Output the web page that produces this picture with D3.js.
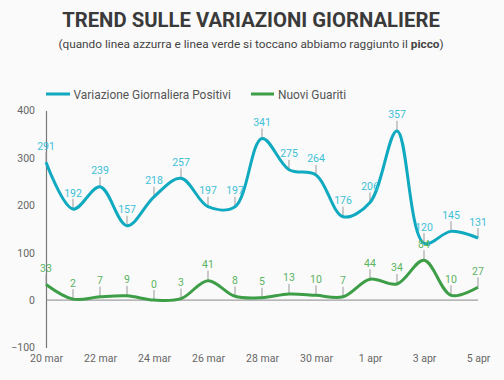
<!DOCTYPE html>
<html><head><meta charset="utf-8">
<script src="https://cdn.jsdelivr.net/npm/d3@7"></script>
<style>
html,body{margin:0;padding:0;background:#fafafa;}
svg{display:block;font-family:Roboto,"Noto Sans",sans-serif;}
</style></head>
<body>
<svg id="c" width="504" height="380"></svg>
<script>
const dates = ["20 mar","21 mar","22 mar","23 mar","24 mar","25 mar","26 mar","27 mar","28 mar","29 mar","30 mar","31 mar","1 apr","2 apr","3 apr","4 apr","5 apr"];
const positivi = [291,192,239,157,218,257,197,197,341,275,264,176,206,357,120,145,131];
const guariti = [33,2,7,9,0,3,41,8,5,13,10,7,44,34,84,10,27];
const yTicks = [-100,0,100,200,300,400];
const xTickLabels = ["20 mar","22 mar","24 mar","26 mar","28 mar","30 mar","1 apr","3 apr","5 apr"];
const seriesNames = ["Variazione Giornaliera Positivi","Nuovi Guariti"];

const svg = d3.select("#c");
const W = 504, H = 380;
svg.append("rect").attr("width",W).attr("height",H).attr("fill","#fafafa");

// Title
svg.append("text").attr("x",251).attr("y",27).attr("text-anchor","middle")
  .attr("font-size",20.3).attr("font-weight",700).attr("fill","#3a3a3a")
  .text("TREND SULLE VARIAZIONI GIORNALIERE");
const sub = svg.append("text").attr("x",251).attr("y",48).attr("text-anchor","middle")
  .attr("font-size",11.8).attr("fill","#444");
sub.append("tspan").text("(quando linea azzurra e linea verde si toccano abbiamo raggiunto il ");
sub.append("tspan").attr("font-weight",700).text("picco");
sub.append("tspan").text(")");

const x = d3.scalePoint().domain(dates).range([46,478]);
const y = d3.scaleLinear().domain([-100,400]).range([347.5,110.5]);

const colors = ["#0fa9c0","#3d9e47"];
const labelColors = ["#3cc0d6","#5ab462"];

// Legend
const leg = [[46,70,73.5],[251,274,278]];
seriesNames.forEach((n,i)=>{
  svg.append("line").attr("x1",leg[i][0]).attr("x2",leg[i][1]).attr("y1",94).attr("y2",94)
    .attr("stroke",colors[i]).attr("stroke-width",3);
  svg.append("text").attr("x",leg[i][2]).attr("y",98.5).attr("font-size",11.9).attr("fill","#555").text(n);
});

// Y axis
const yAxis = d3.axisLeft(y).tickValues(yTicks).tickSize(0).tickPadding(11);
const ga = svg.append("g").attr("transform","translate(46,0)").call(yAxis);
ga.select(".domain").attr("stroke","#777").attr("stroke-width",1.2);
ga.selectAll("text").attr("font-size",10.5).attr("fill","#666").attr("font-family","Roboto,sans-serif");

// zero line
svg.append("line").attr("x1",46).attr("x2",478).attr("y1",y(0)).attr("y2",y(0))
  .attr("stroke","#888").attr("stroke-width",1);

// X axis labels
const xAxis = d3.axisBottom(x).tickValues(xTickLabels).tickSize(0).tickPadding(0);
const gx = svg.append("g").attr("transform","translate(0,355)").call(xAxis);
gx.select(".domain").remove();
gx.selectAll("text").attr("font-size",10.5).attr("fill","#666").attr("font-family","Roboto,sans-serif");

const line = d3.line().x((d,i)=>x(dates[i])).y(d=>y(d)).curve(d3.curveCatmullRom.alpha(0.5));

[positivi,guariti].forEach((vals,k)=>{
  svg.append("g").selectAll("line").data(vals).join("line")
    .attr("x1",(d,i)=>x(dates[i])).attr("x2",(d,i)=>x(dates[i]))
    .attr("y1",d=>y(d)).attr("y2",d=>y(d)-10)
    .attr("stroke","#999").attr("stroke-width",1);
});
[positivi,guariti].forEach((vals,k)=>{
  svg.append("path").datum(vals).attr("d",line).attr("fill","none")
    .attr("stroke",colors[k]).attr("stroke-width",3).attr("stroke-linejoin","round");
});
[positivi,guariti].forEach((vals,k)=>{
  svg.append("g").selectAll("text").data(vals).join("text")
    .attr("x",(d,i)=>x(dates[i])).attr("y",d=>y(d)-12.5)
    .attr("text-anchor","middle").attr("font-size",10.5).attr("fill",labelColors[k])
    .text(d=>d);
});
</script>
</body></html>
